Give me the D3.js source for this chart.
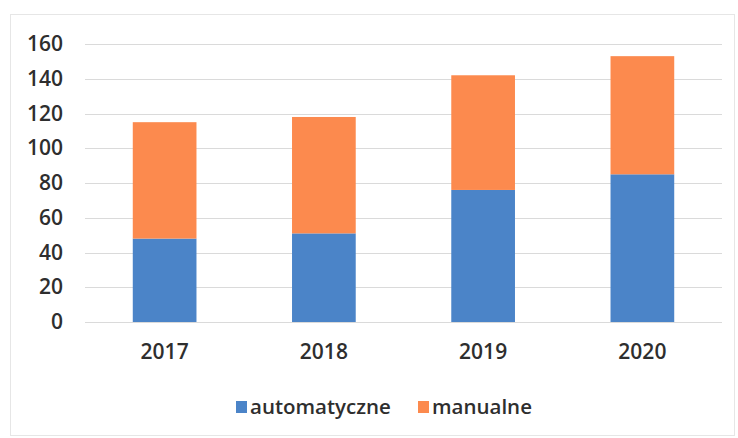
<!DOCTYPE html>
<html>
<head>
<meta charset="utf-8">
<script src="https://cdn.jsdelivr.net/npm/d3@7"></script>
<style>
  body { margin: 0; background: #fff; }
  svg { display: block; font-family: 'Open Sans', sans-serif; }
</style>
</head>
<body>
<div id="chart"></div>
<script>
// values
const years = ['2017', '2018', '2019', '2020']
const automatyczne = [48, 51, 76, 85]
const manualne = [67, 67, 66, 68]
const yTicks = [0, 20, 40, 60, 80, 100, 120, 140, 160]
const seriesNames = ['automatyczne', 'manualne']
const seriesColors = ['#4b84c8', '#fc8a4e']

const W = 738
const H = 438
const margin = { left: 85, right: 16, top: 44, bottom: 116 }

const svg = d3
  .select('#chart')
  .append('svg')
  .attr('width', W)
  .attr('height', H)

// faint frame of the chart area
svg
  .append('rect')
  .attr('x', 10.5)
  .attr('y', 14.5)
  .attr('width', 724)
  .attr('height', 421)
  .attr('fill', 'none')
  .attr('stroke', '#e6e6e6')

const x = d3
  .scaleBand()
  .domain(years)
  .range([margin.left, W - margin.right])
  .paddingInner(0.6)
  .paddingOuter(0.3)

const y = d3
  .scaleLinear()
  .domain([0, 160])
  .range([322, margin.top])

// gridlines
svg
  .append('g')
  .selectAll('line')
  .data(yTicks)
  .enter()
  .append('line')
  .attr('x1', margin.left)
  .attr('x2', W - margin.right)
  .attr('y1', (d) => Math.round(y(d)) + 0.5)
  .attr('y2', (d) => Math.round(y(d)) + 0.5)
  .attr('stroke', '#dadada')
  .attr('stroke-width', 1)

// y axis labels
const yAxis = svg
  .append('g')
  .attr('transform', 'translate(' + margin.left + ',0)')
  .call(d3.axisLeft(y).tickValues(yTicks).tickSize(0).tickPadding(22))
yAxis.select('.domain').remove()
yAxis
  .selectAll('text')
  .attr('font-size', '21px')
  .attr('font-family', "'Open Sans', sans-serif")
  .attr('font-weight', 600)
  .attr('fill', '#2e2e2e')

// stacked bars
const rows = years.map((yr, i) => ({
  year: yr,
  automatyczne: automatyczne[i],
  manualne: manualne[i],
}))
const stack = d3.stack().keys(seriesNames)(rows)

svg
  .append('g')
  .selectAll('g')
  .data(stack)
  .enter()
  .append('g')
  .attr('fill', (d, i) => seriesColors[i])
  .selectAll('rect')
  .data((d) => d)
  .enter()
  .append('rect')
  .attr('x', (d) => x(d.data.year))
  .attr('y', (d) => y(d[1]))
  .attr('height', (d) => y(d[0]) - y(d[1]))
  .attr('width', x.bandwidth())

// x axis labels
const xAxis = svg
  .append('g')
  .attr('transform', 'translate(0,322)')
  .call(d3.axisBottom(x).tickSize(0).tickPadding(22))
xAxis.select('.domain').remove()
xAxis
  .selectAll('text')
  .attr('font-size', '21px')
  .attr('font-family', "'Open Sans', sans-serif")
  .attr('font-weight', 600)
  .attr('fill', '#2e2e2e')

// legend
const legendX = [236, 418]
const legend = svg
  .append('g')
  .selectAll('g')
  .data(seriesNames)
  .enter()
  .append('g')
  .attr('transform', (d, i) => 'translate(' + legendX[i] + ',401)')

legend
  .append('rect')
  .attr('width', 11)
  .attr('height', 12)
  .attr('fill', (d, i) => seriesColors[i])

legend
  .append('text')
  .attr('x', 14)
  .attr('y', 13)
  .attr('font-size', '20.5px')
  .attr('font-weight', 600)
  .attr('fill', '#2e2e2e')
  .text((d) => d)
</script>
</body>
</html>
